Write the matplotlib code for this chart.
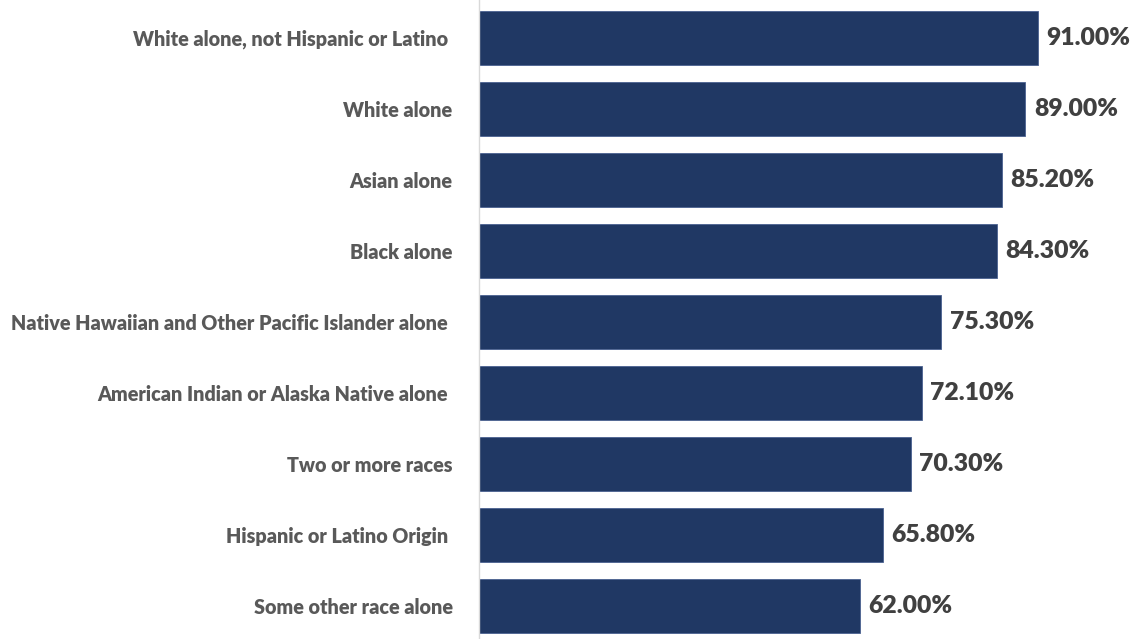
import matplotlib.pyplot as plt

plt.rcParams['font.family'] = ['Lato', 'DejaVu Sans']

# Share by race / ethnicity, top to bottom
groups = [
    "White alone, not Hispanic or Latino ",
    "White alone",
    "Asian alone",
    "Black alone",
    "Native Hawaiian and Other Pacific Islander alone ",
    "American Indian or Alaska Native alone ",
    "Two or more races",
    "Hispanic or Latino Origin ",
    "Some other race alone",
]
pct = [91.0, 89.0, 85.2, 84.3, 75.3, 72.1, 70.3, 65.8, 62.0]

bar_color = "#203864"

fig = plt.figure(figsize=(11.36, 6.39), dpi=100)
ax = fig.add_axes([479 / 1136, 0.0, 1 - 479 / 1136, 1.0])

ypos = list(range(len(groups)))
ax.barh(ypos, pct, height=0.75, color=bar_color, edgecolor="#4a6190", linewidth=0.6)

# value labels just past the bar ends
for y, v in zip(ypos, pct):
    ax.text(v + 1.4, y, f"{v:.2f}%", va="center", ha="left",
            fontsize=17.8, fontweight="heavy", color="#404040")

ax.set_yticks(ypos)
ax.set_yticklabels(groups, fontsize=14.2, fontweight="heavy", color="#595959")
ax.tick_params(axis="y", length=0, pad=19)
ax.set_ylim(8.465, -0.535)
ax.set_xlim(0, 107)
ax.set_xticks([])

for side in ("top", "right", "bottom"):
    ax.spines[side].set_visible(False)
ax.spines["left"].set_color("#d9d9d9")
ax.spines["left"].set_linewidth(1.0)

fig.savefig("out.png", dpi=100)
